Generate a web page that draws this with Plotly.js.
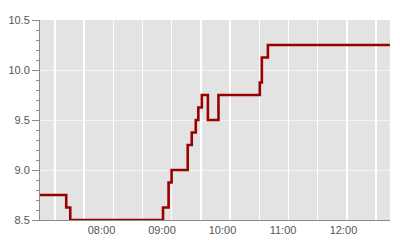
<!DOCTYPE html>
<html>
<head>
<meta charset="utf-8">
<script src="https://cdn.plot.ly/plotly-3.0.1.min.js"></script>
<style>html,body{margin:0;padding:0;background:#fff;}#chart{width:400px;height:240px;}</style>
</head>
<body>
<div id="chart"></div>
<script>
var times = ["2024-01-01 06:59:00","2024-01-01 07:25:00","2024-01-01 07:29:00","2024-01-01 09:01:00",
             "2024-01-01 09:06:30","2024-01-01 09:09:30","2024-01-01 09:25:30","2024-01-01 09:29:30",
             "2024-01-01 09:33:30","2024-01-01 09:36:00","2024-01-01 09:39:30","2024-01-01 09:45:30",
             "2024-01-01 09:56:00","2024-01-01 10:37:00","2024-01-01 10:39:00","2024-01-01 10:45:00",
             "2024-01-01 12:46:00"];
var values = [8.75, 8.625, 8.5, 8.625, 8.875, 9.0, 9.25, 9.375, 9.5, 9.625, 9.75, 9.5, 9.75, 9.875, 10.125, 10.25, 10.25];
var tickTimes = ["2024-01-01 08:00","2024-01-01 09:00","2024-01-01 10:00","2024-01-01 11:00","2024-01-01 12:00"];
var tickLabels = ["08:00","09:00","10:00","11:00","12:00"];

var axisGray = "#8a8a8a";
var textGray = "#555555";

var traces = [
  {x:[40,390], y:[8.5,8.5], xaxis:"x2", yaxis:"y", mode:"lines", line:{width:0}, hoverinfo:"skip", showlegend:false},
  {x:times, y:values, type:"scatter", mode:"lines", line:{shape:"hv", color:"#9b0000", width:2.6}, showlegend:false}
];

var layout = {
  width:400, height:240,
  margin:{l:40, r:10, t:20, b:20},
  paper_bgcolor:"#ffffff", plot_bgcolor:"#e3e3e3",
  font:{family:"Liberation Sans, Arial, sans-serif", size:11, color:textGray},
  xaxis:{type:"date", range:["2024-01-01 06:59:00","2024-01-01 12:46:06"],
         tickmode:"array", tickvals:tickTimes, ticktext:tickLabels,
         showgrid:false, zeroline:false, ticks:"", showline:true, linecolor:axisGray, linewidth:1,
         tickfont:{size:11, color:textGray}},
  xaxis2:{overlaying:"x", range:[40,390], tick0:55, dtick:29.18, showgrid:true, gridcolor:"#ffffff", gridwidth:1.5,
          showticklabels:false, ticks:"", zeroline:false, showline:false},
  yaxis:{range:[8.5,10.5], dtick:0.5, tick0:8.5, tickformat:".1f",
         ticks:"outside", ticklen:7, tickcolor:axisGray, tickwidth:1,
         showline:true, linecolor:axisGray, linewidth:1,
         gridcolor:"#f4f4f4", gridwidth:1, zeroline:false,
         minor:{dtick:0.1, ticks:"outside", ticklen:3, tickcolor:axisGray, showgrid:false},
         tickfont:{size:11, color:textGray}}
};

Plotly.newPlot("chart", traces, layout, {displayModeBar:false, staticPlot:true});
</script>
</body>
</html>
